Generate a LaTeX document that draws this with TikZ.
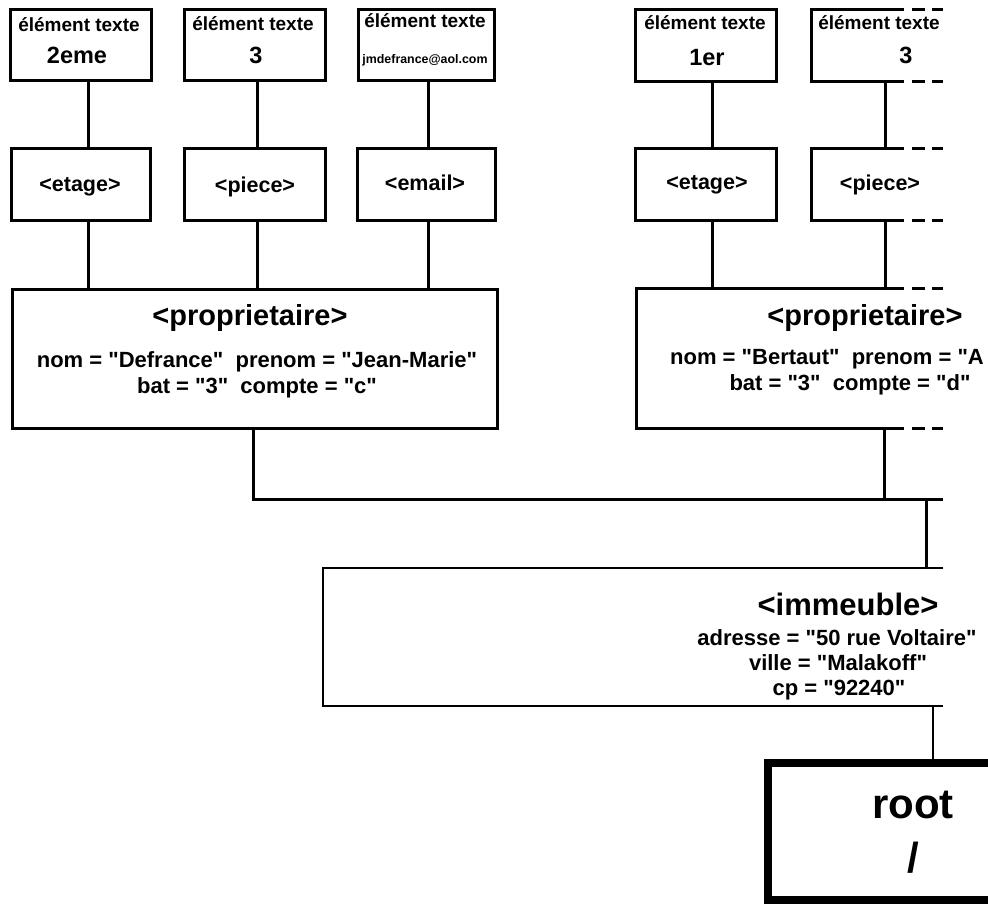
\documentclass[tikz,border=0pt]{standalone}
\usepackage{fontspec}
\newfontfamily\lib{Liberation Sans}
\newcommand{\fsz}[1]{\lib\fontsize{#1}{#1}\selectfont\bfseries}
\begin{document}
\begin{tikzpicture}[x=1pt,y=-1pt,
  box/.style={draw,line width=3pt,inner sep=0pt,outer sep=0pt},
  link/.style={line width=3pt},
  openbox/.style={line width=3pt,line join=miter},
  dsh/.style={line width=3pt},
  rootbox/.style={line width=8pt,line join=miter},
  lbl/.style={inner sep=0pt,anchor=base},
  eltxt/.style={lbl,font=\fsz{19}},
  valtxt/.style={lbl,font=\fsz{23.5}},
  tagtxt/.style={lbl,font=\fsz{21.5}},
  ptitle/.style={lbl,font=\fsz{29}},
  attr/.style={lbl,font=\fsz{22}},
  ititle/.style={lbl,font=\fsz{31}},
  roottxt/.style={lbl,font=\fsz{42}},
]
\useasboundingbox (0,0) rectangle (988,903);
\clip (0,0) rectangle (988,903);

% ---------- left branch ----------
\node[box,minimum width=141pt,minimum height=71pt] (b1) at (80.5,44.5) {};
\node[box,minimum width=141pt,minimum height=71pt] (b2) at (254.5,44.5) {};
\node[box,minimum width=136pt,minimum height=71pt] (b3) at (426,44.5) {};
\node[box,minimum width=139pt,minimum height=72pt] (e1) at (80.5,184) {};
\node[box,minimum width=141pt,minimum height=72pt] (e2) at (254.5,184) {};
\node[box,minimum width=138pt,minimum height=72pt] (e3) at (426,184) {};
\node[box,minimum width=485pt,minimum height=139pt] (pL) at (254.5,358.5) {};

\node[eltxt] (b1a) at (79,31) {élément texte};
\node[valtxt] (b1b) at (77,63) {2eme};
\node[eltxt] (b2a) at (253,30) {élément texte};
\node[valtxt] (b2b) at (256,63) {3};
\node[eltxt] (b3a) at (425,27) {élément texte};
\node[lbl,font=\fsz{12.4}] (b3b) at (425,63) {jmdefrance@aol.com};
\node[tagtxt] (e1t) at (80,191) {<etage>};
\node[tagtxt] (e2t) at (255,192) {<piece>};
\node[tagtxt] (e3t) at (425,190) {<email>};
\node[ptitle] (pLt) at (250,325) {<proprietaire>};
\node[attr] (pLa) at (257,367) {nom = "Defrance"\ \ prenom = "Jean-Marie"};
\node[attr] (pLb) at (257,393) {bat = "3"\ \ compte = "c"};

\draw[link] ([xshift=7.5pt]b1.south) -- ([xshift=7.5pt]e1.north);
\draw[link] ([xshift=2.5pt]b2.south) -- ([xshift=2.5pt]e2.north);
\draw[link] ([xshift=2pt]b3.south) -- ([xshift=2pt]e3.north);
\draw[link] ([xshift=7.5pt]e1.south) -- ([xshift=7.5pt]e1.south |- pL.north);
\draw[link] ([xshift=2.5pt]e2.south) -- ([xshift=2.5pt]e2.south |- pL.north);
\draw[link] ([xshift=2pt]e3.south) -- ([xshift=2pt]e3.south |- pL.north);

% ---------- right branch ----------
\node[box,minimum width=141pt,minimum height=72pt] (r1) at (705.5,45) {};
\node[box,minimum width=141pt,minimum height=72pt] (re1) at (705.5,184) {};
\draw[openbox] (904,9) -- (811,9) -- (811,81) -- (904,81);
\draw[openbox] (904,148) -- (811,148) -- (811,220) -- (904,220);
\draw[openbox] (904,288) -- (636,288) -- (636,428) -- (904,428);
\foreach \yy in {9,81,148,220,288,428}{
  \draw[dsh] (912,\yy) -- (925,\yy);
  \draw[dsh] (932,\yy) -- (943,\yy);
}
\coordinate (r2b) at (885,81);
\coordinate (re2t) at (885,148);
\coordinate (re2b) at (885,220);
\coordinate (pRt) at (885,288);
\coordinate (pRt1) at (712,288);
\coordinate (pRb) at (884,428);

\node[eltxt] (r1a) at (705,29) {élément texte};
\node[valtxt] (r1b) at (707,65) {1er};
\node[eltxt] (r2a) at (879,29) {élément texte};
\node[valtxt] (r2b0) at (906,63) {3};
\node[tagtxt] (re1t) at (707,189) {<etage>};
\node[tagtxt] (re2t0) at (880,190) {<piece>};
\node[ptitle] (pRtt) at (865,325) {<proprietaire>};
\node[attr,anchor=base west] (pRa) at (670,364) {nom = "Bertaut"\ \ prenom = "A};
\node[attr] (pRbb) at (850,390) {bat = "3"\ \ compte = "d"};

\draw[link] ([xshift=6.5pt]r1.south) -- ([xshift=6.5pt]re1.north);
\draw[link] (r2b) -- (re2t);
\draw[link] ([xshift=6.5pt]re1.south) -- (pRt1);
\draw[link] (re2b) -- (pRt);

% ---------- bus ----------
\coordinate (busR) at (943,499);
\coordinate (busI) at (926,499);
\draw[link] ([xshift=-1.5pt]pL.south) |- (busR);
\draw[link] (pRb) -- (pRb |- busR);

% ---------- immeuble ----------
\draw[line width=2.6pt,line join=miter] (943,568) -- (323,568) -- (323,706) -- (943,706);
\coordinate (imT) at (926,568);
\coordinate (imB) at (933,706);
\draw[link] (busI) -- (imT);
\node[ititle] (imt) at (848,615) {<immeuble>};
\node[attr] (ima) at (837,645) {adresse = "50 rue Voltaire"};
\node[attr] (imv) at (838,670) {ville = "Malakoff"};
\node[attr] (imc) at (839,695) {cp = "92240"};

% ---------- root ----------
\draw[rootbox] (990,763) -- (768,763) -- (768,900) -- (990,900);
\coordinate (rootT) at (933,763);
\draw[line width=2.6pt] (imB) -- (rootT);
\node[roottxt] (rt) at (913,818) {root};
\node[roottxt] (rs) at (913,872) {/};
\end{tikzpicture}
\end{document}
